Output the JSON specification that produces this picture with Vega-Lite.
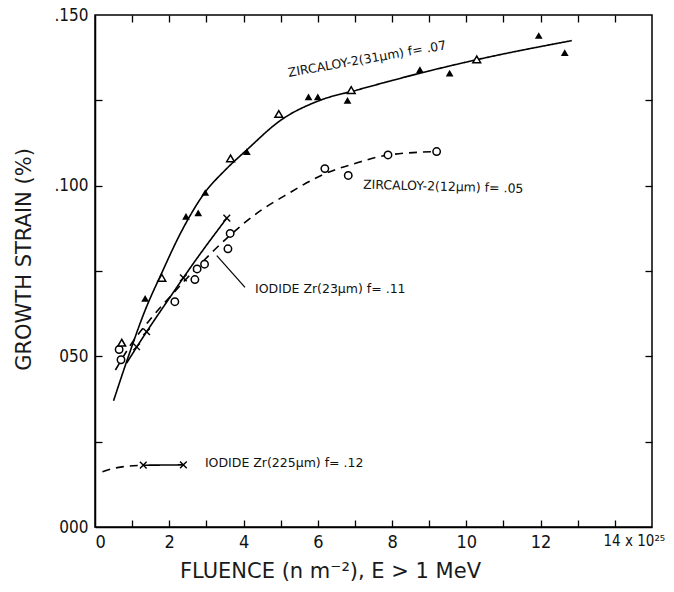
{
  "$schema": "https://vega.github.io/schema/vega-lite/v6.json",
  "width": 557,
  "height": 512,
  "autosize": "none",
  "padding": {"left": 95, "top": 15, "right": 22, "bottom": 65},
  "background": "white",
  "config": {
    "font": "DejaVu Sans Condensed",
    "view": {"stroke": "black", "strokeWidth": 1.5},
    "axis": {
      "domainColor": "black", "domainWidth": 1.5, "tickColor": "black", "tickWidth": 1.3,
      "labelColor": "#111", "titleColor": "#1a1a1a", "grid": false,
      "labelFont": "DejaVu Sans Condensed", "titleFont": "DejaVu Sans",
      "titleFontWeight": "normal"
    }
  },
  "resolve": {"axis": {"x": "independent", "y": "independent"}},
  "datasets": {
    "lines": [
      {"s": "Z31", "d": "solid", "x": 0.5, "y": 0.037},
      {"s": "Z31", "d": "solid", "x": 0.9, "y": 0.050},
      {"s": "Z31", "d": "solid", "x": 1.35, "y": 0.0635},
      {"s": "Z31", "d": "solid", "x": 1.8, "y": 0.0745},
      {"s": "Z31", "d": "solid", "x": 2.3, "y": 0.086},
      {"s": "Z31", "d": "solid", "x": 2.96, "y": 0.098},
      {"s": "Z31", "d": "solid", "x": 3.5, "y": 0.1045},
      {"s": "Z31", "d": "solid", "x": 4.09, "y": 0.1105},
      {"s": "Z31", "d": "solid", "x": 4.98, "y": 0.119},
      {"s": "Z31", "d": "solid", "x": 6.06, "y": 0.125},
      {"s": "Z31", "d": "solid", "x": 7.05, "y": 0.128},
      {"s": "Z31", "d": "solid", "x": 8.7, "y": 0.1328},
      {"s": "Z31", "d": "solid", "x": 10.28, "y": 0.1369},
      {"s": "Z31", "d": "solid", "x": 12.84, "y": 0.1425},
      {"s": "I23", "d": "solid", "x": 0.85, "y": 0.048},
      {"s": "I23", "d": "solid", "x": 1.39, "y": 0.0572},
      {"s": "I23", "d": "solid", "x": 2.0, "y": 0.067},
      {"s": "I23", "d": "solid", "x": 2.7, "y": 0.078},
      {"s": "I23", "d": "solid", "x": 3.55, "y": 0.0905},
      {"s": "Z12", "d": "dashed", "x": 0.55, "y": 0.046},
      {"s": "Z12", "d": "dashed", "x": 1.0, "y": 0.054},
      {"s": "Z12", "d": "dashed", "x": 1.5, "y": 0.061},
      {"s": "Z12", "d": "dashed", "x": 2.15, "y": 0.069},
      {"s": "Z12", "d": "dashed", "x": 2.7, "y": 0.0755},
      {"s": "Z12", "d": "dashed", "x": 3.2, "y": 0.081},
      {"s": "Z12", "d": "dashed", "x": 3.64, "y": 0.0855},
      {"s": "Z12", "d": "dashed", "x": 4.5, "y": 0.093},
      {"s": "Z12", "d": "dashed", "x": 5.1, "y": 0.097},
      {"s": "Z12", "d": "dashed", "x": 6.19, "y": 0.1035},
      {"s": "Z12", "d": "dashed", "x": 7.0, "y": 0.1065},
      {"s": "Z12", "d": "dashed", "x": 7.9, "y": 0.109},
      {"s": "Z12", "d": "dashed", "x": 9.2, "y": 0.110},
      {"s": "I225a", "d": "dashed", "x": 0.2, "y": 0.0162},
      {"s": "I225a", "d": "dashed", "x": 0.6, "y": 0.0174},
      {"s": "I225a", "d": "dashed", "x": 1.3, "y": 0.0181},
      {"s": "I225b", "d": "solid", "x": 1.3, "y": 0.0181},
      {"s": "I225b", "d": "solid", "x": 2.38, "y": 0.0182}
    ],
    "points": [
      {"m": "tf", "x": 1.35, "y": 0.067},
      {"m": "tf", "x": 2.45, "y": 0.091},
      {"m": "tf", "x": 2.78, "y": 0.092},
      {"m": "tf", "x": 2.97, "y": 0.098},
      {"m": "tf", "x": 4.09, "y": 0.110},
      {"m": "tf", "x": 5.75, "y": 0.126},
      {"m": "tf", "x": 6.0, "y": 0.126},
      {"m": "tf", "x": 6.8, "y": 0.125},
      {"m": "tf", "x": 8.75, "y": 0.134},
      {"m": "tf", "x": 9.55, "y": 0.133},
      {"m": "tf", "x": 11.95, "y": 0.144},
      {"m": "tf", "x": 12.65, "y": 0.139},
      {"m": "to", "x": 0.72, "y": 0.054},
      {"m": "to", "x": 1.8, "y": 0.073},
      {"m": "to", "x": 3.65, "y": 0.108},
      {"m": "to", "x": 4.95, "y": 0.121},
      {"m": "to", "x": 6.9, "y": 0.128},
      {"m": "to", "x": 10.28, "y": 0.137},
      {"m": "c", "x": 0.65, "y": 0.052},
      {"m": "c", "x": 0.7, "y": 0.049},
      {"m": "c", "x": 2.15, "y": 0.066},
      {"m": "c", "x": 2.69, "y": 0.0725},
      {"m": "c", "x": 2.75, "y": 0.0756},
      {"m": "c", "x": 2.95, "y": 0.077},
      {"m": "c", "x": 3.58, "y": 0.0815},
      {"m": "c", "x": 3.64, "y": 0.086},
      {"m": "c", "x": 6.19, "y": 0.105},
      {"m": "c", "x": 6.82, "y": 0.103},
      {"m": "c", "x": 7.89, "y": 0.109},
      {"m": "c", "x": 9.2, "y": 0.110},
      {"m": "x", "x": 1.12, "y": 0.0528},
      {"m": "x", "x": 1.39, "y": 0.0572},
      {"m": "x", "x": 2.38, "y": 0.073},
      {"m": "x", "x": 3.55, "y": 0.0905},
      {"m": "x", "x": 1.3, "y": 0.0181},
      {"m": "x", "x": 2.38, "y": 0.0182}
    ],
    "labels": [
      {"t": "ZIRCALOY-2(31μm) f= .07", "x": 5.2, "y": 0.133, "a": -10},
      {"t": "ZIRCALOY-2(12μm) f= .05", "x": 7.22, "y": 0.1003, "a": 1.5},
      {"t": "IODIDE Zr(23μm) f= .11", "x": 4.31, "y": 0.0697, "a": 0},
      {"t": "IODIDE Zr(225μm) f= .12", "x": 2.96, "y": 0.0188, "a": 0}
    ],
    "leader": [
      {"x": 3.28, "y": 0.0795, "x2": 4.04, "y2": 0.0702}
    ]
  },
  "layer": [
    {
      "data": {"name": "lines"},
      "mark": {"type": "line", "color": "black", "strokeWidth": 1.6, "interpolate": "monotone"},
      "encoding": {
        "x": {"field": "x", "type": "quantitative",
          "scale": {"domain": [0, 15], "nice": false, "zero": false},
          "axis": {
            "orient": "bottom",
            "values": [0,2,4,6,8,10,12,14],
            "ticks": false,
            "labelExpr": "datum.value == 14 ? '14 x 10²⁵' : datum.label",
            "labelPadding": 6,
            "labelFontSize": {"condition": {"test": "datum.value == 14", "value": 15}, "value": 18},
            "labelOffset": {"condition": {"test": "datum.value == 14", "value": 19}, "value": 0},
            "title": "FLUENCE (n m⁻²), E > 1 MeV",
            "titleFontSize": 21,
            "titleX": 235,
            "titleY": 44,
            "titleBaseline": "middle",
            "titleAnchor": "middle",
            "titleAlign": "center"
          }
        },
        "y": {"field": "y", "type": "quantitative",
          "scale": {"domain": [0, 0.15], "nice": false},
          "axis": {
            "orient": "left",
            "values": [0, 0.05, 0.1, 0.15],
            "ticks": false,
            "labelExpr": "datum.value == 0.15 ? '.150' : datum.value == 0.1 ? '.100' : datum.value == 0.05 ? '050' : '000'",
            "labelPadding": 7,
            "labelFontSize": 17,
            "title": "GROWTH STRAIN (%)",
            "titleFontSize": 21,
            "titleX": -71,
            "titleY": 244,
            "titleBaseline": "middle",
            "titleAlign": "center",
            "titleAngle": -90
          }
        },
        "detail": {"field": "s"},
        "strokeDash": {"field": "d", "type": "nominal",
          "scale": {"domain": ["solid", "dashed"], "range": [[1, 0], [8, 6]]},
          "legend": null}
      }
    },
    {
      "data": {"name": "leader"},
      "mark": {"type": "rule", "color": "black", "strokeWidth": 1.2},
      "encoding": {
        "x": {"field": "x", "type": "quantitative",
          "axis": {"orient": "bottom", "offset": -7, "domain": false, "labels": false, "title": null,
            "values": [1,2,3,4,5,6,7,8,9,10,11,12,13,14], "tickSize": 7}},
        "y": {"field": "y", "type": "quantitative",
          "axis": {"orient": "left", "offset": -7, "domain": false, "labels": false, "title": null,
            "values": [0.025, 0.05, 0.075, 0.1, 0.125], "tickSize": 7}},
        "x2": {"field": "x2"},
        "y2": {"field": "y2"}
      }
    },
    {
      "data": {"name": "points"},
      "transform": [{"filter": "datum.m == 'c'"}],
      "mark": {"type": "point", "shape": "circle", "size": 55, "filled": true, "fill": "white", "stroke": "black", "strokeWidth": 1.5, "opacity": 1},
      "encoding": {
        "x": {"field": "x", "type": "quantitative",
          "axis": {"orient": "top", "offset": -7, "domain": false, "labels": false, "title": null,
            "values": [1,2,3,4,5,6,7,8,9,10,11,12,13,14], "tickSize": 7}},
        "y": {"field": "y", "type": "quantitative",
          "axis": {"orient": "right", "offset": -7, "domain": false, "labels": false, "title": null,
            "values": [0.025, 0.05, 0.075, 0.1, 0.125], "tickSize": 7}}
      }
    },
    {
      "data": {"name": "points"},
      "transform": [{"filter": "datum.m == 'to'"}],
      "mark": {"type": "point", "shape": "triangle-up", "size": 60, "filled": true, "fill": "white", "stroke": "black", "strokeWidth": 1.5, "opacity": 1},
      "encoding": {
        "x": {"field": "x", "type": "quantitative", "axis": null},
        "y": {"field": "y", "type": "quantitative", "axis": null}
      }
    },
    {
      "data": {"name": "points"},
      "transform": [{"filter": "datum.m == 'tf'"}],
      "mark": {"type": "point", "shape": "triangle-up", "size": 60, "filled": true, "color": "black", "opacity": 1},
      "encoding": {
        "x": {"field": "x", "type": "quantitative", "axis": null},
        "y": {"field": "y", "type": "quantitative", "axis": null}
      }
    },
    {
      "data": {"name": "points"},
      "transform": [{"filter": "datum.m == 'x'"}],
      "mark": {"type": "point", "shape": "M-1,-1L1,1M-1,1L1,-1", "size": 45, "filled": false, "stroke": "black", "strokeWidth": 1.4, "opacity": 1},
      "encoding": {
        "x": {"field": "x", "type": "quantitative", "axis": null},
        "y": {"field": "y", "type": "quantitative", "axis": null}
      }
    },
    {
      "data": {"name": "labels"},
      "mark": {"type": "text", "align": "left", "baseline": "middle", "fontSize": 12.5, "color": "#111", "font": "DejaVu Sans"},
      "encoding": {
        "x": {"field": "x", "type": "quantitative", "axis": null},
        "y": {"field": "y", "type": "quantitative", "axis": null},
        "text": {"field": "t"},
        "angle": {"field": "a", "type": "quantitative", "scale": null}
      }
    }
  ]
}
